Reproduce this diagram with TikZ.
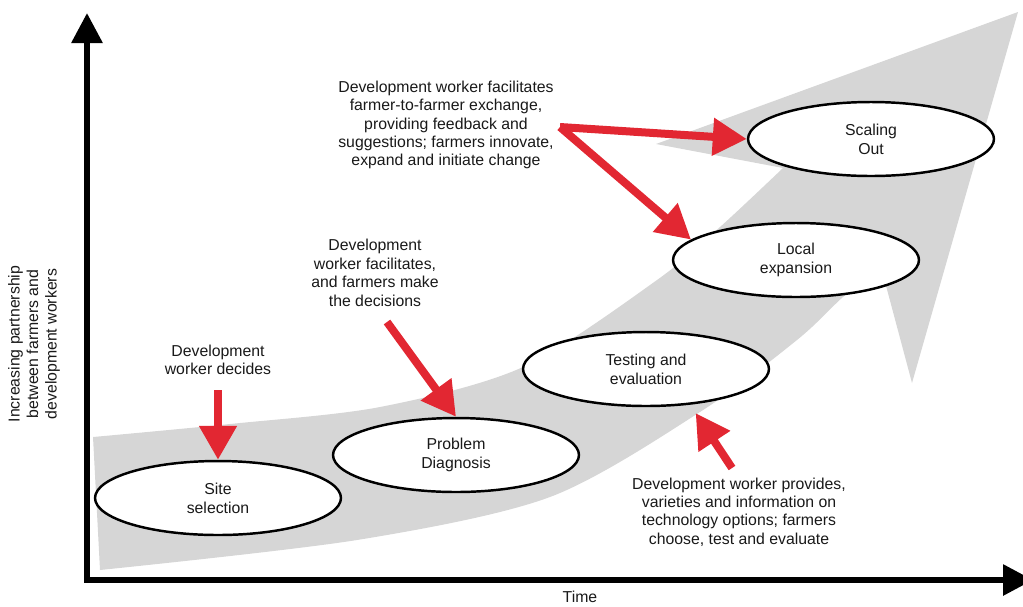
\documentclass[tikz,border=0pt]{standalone}
\usepackage{fontspec}
\setmainfont{Liberation Sans}
\usetikzlibrary{arrows.meta,shapes.geometric}
\tikzset{>=latex}
\definecolor{gristrame}{RGB}{214,214,214}
\definecolor{rougefl}{RGB}{226,39,50}
\tikzset{
  etape/.style={ellipse, draw=black, line width=1.4pt, fill=white, minimum width=4.92cm, minimum height=1.48cm, inner sep=0pt, align=center, text=black!90, font=\fontsize{9}{10.8}\selectfont},
  note/.style={align=center, inner sep=0pt, text=black!90, font=\fontsize{9}{10.5}\selectfont},
  fleche/.style={draw=rougefl, line width=0.16cm, -{Triangle[width=0.72cm,length=0.68cm]}},
  axe/.style={draw=black, line width=0.12cm, {Triangle[width=0.6cm,length=0.6cm]}-{Triangle[width=0.6cm,length=0.6cm]}}
}
\begin{document}
\begin{tikzpicture}[x=0.02cm, y=-0.02cm]

% Zone de dessin : 1 unité = 1 pixel de l'image d'origine, l'axe y pointe vers le bas.
% Drawing area: 1 unit = 1 pixel of the original picture, the y axis points down.
\useasboundingbox (0,0) rectangle (1023,606);

% Bande grise en forme de flèche courbe
% Grey band shaped as a curved arrow
\fill [gristrame] plot[smooth] coordinates {(93,437) (230,424) (380,407) (523,367) (657,280) (720,227) (783,168)}
  -- (656,144) -- (1018,12) -- (912,383) -- (881,267)
  -- plot[smooth] coordinates {(881,267) (843,297) (797,340) (700,412) (550,497) (357,540) (100,570)} -- cycle;

% Axes
\coordinate (O) at (87,580);
\draw [axe] (87,13) -- (O) -- (1033,580);
\node [note] (temps) at (580,597) {Time};
\node [note, rotate=90] (partenariat) at (34,344) {Increasing partnership\\between farmers and\\development workers};

% Étapes / Steps
\node [etape] (site) at (218,498) {Site\\selection};
\node [etape] (prob) at (456,455) {Problem\\Diagnosis};
\node [etape] (test) at (646,369) {Testing and\\evaluation};
\node [etape] (local) at (796,260) {Local\\expansion};
\node [etape] (scale) at (871,139) {Scaling\\Out};

% Textes explicatifs / Explanatory texts
\node [note] (decide) at (218,360) {Development\\worker decides};
\node [note] (facil) at (375,273) {Development\\worker facilitates,\\and farmers make\\the decisions};
\node [note] (echange) at (446,125) {Development worker facilitates\\farmer-to-farmer exchange,\\providing feedback and\\suggestions; farmers innovate,\\expand and initiate change};
\node [note] (fournit) at (739,512) {Development worker provides,\\varieties and information on\\technology options; farmers\\choose, test and evaluate};

% Flèches rouges / Red arrows
\coordinate (qdecide) at (218,390);
\coordinate (qfacil) at (387,322);
\coordinate (qechange) at (560,127);
\coordinate (qfournit) at (732,468);
\draw [fleche] (qdecide) -- (site.north);
\draw [fleche] (qfacil) -- (prob.north);
\draw [fleche] (qechange) -- (scale.west);
\draw [fleche] (qechange) -- (local.169);
\draw [fleche, shorten >=0.2cm] (qfournit) -- (test.-39);

\end{tikzpicture}
\end{document}
